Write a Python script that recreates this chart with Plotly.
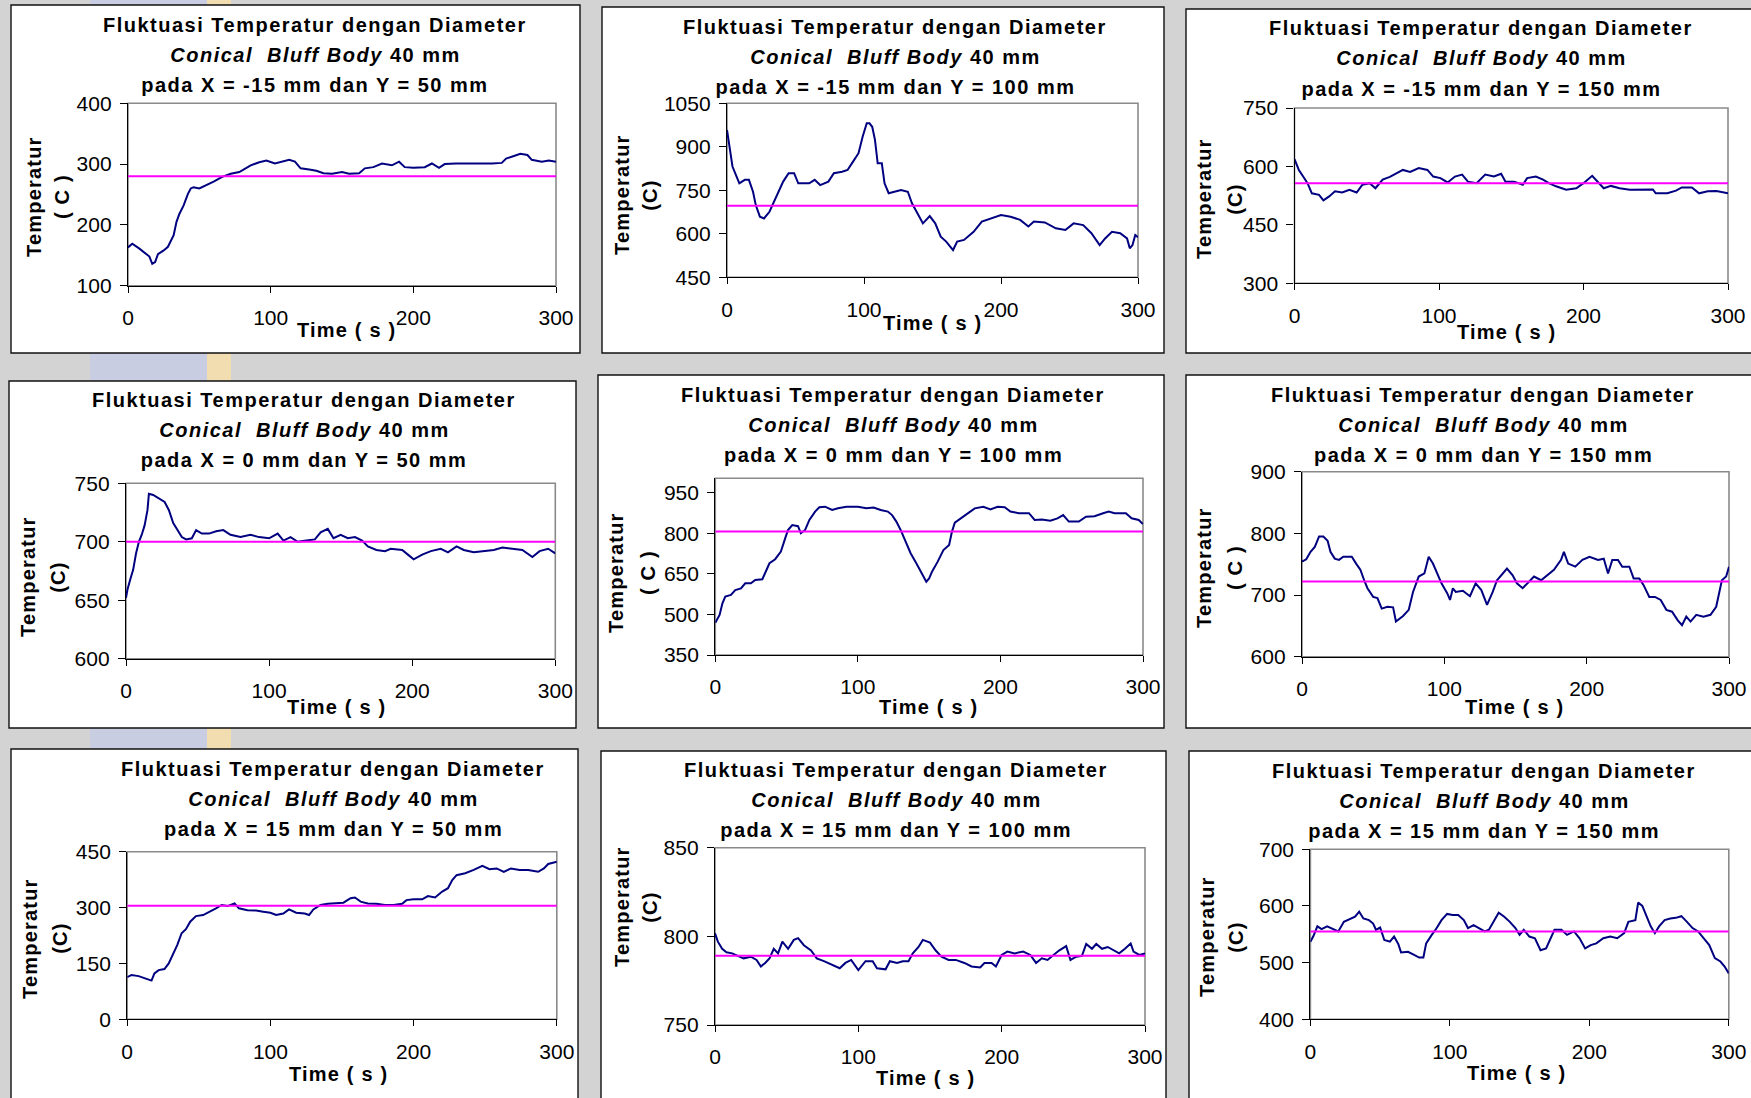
import plotly.graph_objects as go

# ---------------------------------------------------------------------------
# Temperature records, time in seconds and temperature in degrees C.
# One pair of arrays per probe position (X, Y in mm).
# ---------------------------------------------------------------------------
t_xm15_y50 = [0, 3, 8, 12, 15, 17, 19, 21, 25, 28, 32, 34, 36, 39, 42, 44, 46, 50, 55, 60,
              66, 72, 78, 82, 86, 92, 97, 103, 108, 113, 117, 121, 127, 132, 137, 143, 150, 155, 162, 166,
              172, 178, 185, 190, 194, 200, 208, 213, 218, 222, 230, 238, 245, 255, 262, 265, 270, 275, 280, 283,
              290, 295, 300]
temp_xm15_y50 = [163, 169, 161, 154, 148, 136, 139, 152, 158, 164, 183, 205, 218, 232, 251, 260, 262, 260, 265, 271,
                 279, 284, 287, 293, 298, 303, 306, 301, 304, 307, 304, 293, 291, 289, 285, 284, 287, 284, 285, 293,
                 295, 301, 298, 304, 295, 294, 295, 301, 294, 300, 301, 301, 300, 301, 302, 309, 313, 317, 315, 307,
                 304, 306, 304]

t_xm15_y100 = [0, 2, 4, 7, 9, 13, 16, 19, 21, 24, 27, 31, 35, 38, 41, 45, 49, 52, 60, 64,
               68, 74, 78, 84, 88, 92, 96, 99, 102, 104, 106, 108, 110, 113, 115, 118, 122, 127, 132, 135,
               139, 143, 148, 152, 156, 160, 165, 168, 173, 180, 186, 193, 200, 207, 214, 220, 224, 232, 240, 247,
               253, 260, 266, 272, 276, 281, 287, 292, 294, 296, 298, 300]
temp_xm15_y100 = [958, 901, 832, 797, 774, 786, 786, 745, 699, 659, 653, 676, 717, 745, 780, 809, 809, 774, 774, 786,
                  768, 780, 809, 814, 820, 849, 878, 935, 981, 981, 969, 924, 843, 843, 774, 740, 745, 751, 745, 705,
                  671, 636, 661, 636, 590, 573, 544, 573, 579, 607, 642, 653, 665, 659, 648, 625, 642, 639, 619, 613,
                  636, 630, 602, 561, 584, 607, 602, 584, 550, 561, 596, 588]

t_xm15_y150 = [0, 3, 6, 9, 12, 17, 20, 24, 28, 33, 38, 43, 47, 52, 56, 61, 66, 71, 75, 80,
               86, 92, 96, 101, 106, 111, 116, 120, 126, 132, 138, 143, 146, 152, 158, 161, 167, 172, 176, 181,
               188, 195, 200, 206, 210, 214, 219, 225, 232, 240, 248, 250, 258, 264, 268, 275, 280, 286, 292, 300]
temp_xm15_y150 = [619, 591, 574, 557, 531, 527, 513, 523, 536, 533, 540, 533, 553, 557, 544, 566, 573, 583, 591, 586,
                  596, 591, 574, 570, 559, 574, 579, 561, 557, 579, 574, 581, 561, 561, 553, 570, 574, 566, 557, 549,
                  540, 544, 557, 576, 561, 544, 550, 544, 540, 541, 541, 531, 531, 538, 546, 546, 531, 536, 537, 531]

t_x0_y50 = [0, 1, 3, 5, 7, 9, 11, 13, 15, 16, 19, 24, 27, 30, 33, 36, 39, 42, 46, 49,
            53, 58, 63, 68, 73, 80, 87, 93, 100, 106, 110, 115, 120, 126, 132, 136, 141, 145, 150, 155,
            160, 165, 169, 175, 181, 185, 193, 197, 201, 207, 213, 220, 225, 231, 236, 243, 250, 257, 263, 270,
            277, 284, 289, 295, 300]
temp_x0_y50 = [652, 659, 668, 676, 690, 700, 706, 714, 727, 741, 740, 736, 734, 727, 716, 710, 704, 702, 703, 710,
               707, 707, 709, 710, 706, 704, 706, 704, 703, 707, 701, 704, 700, 701, 702, 708, 711, 703, 706, 703,
               704, 701, 696, 693, 692, 694, 693, 689, 685, 689, 692, 694, 691, 696, 693, 691, 692, 693, 695, 694,
               693, 687, 692, 694, 690]

t_x0_y100 = [0, 3, 5, 7, 11, 14, 18, 21, 25, 28, 33, 36, 38, 42, 46, 49, 51, 54, 58, 60,
             63, 66, 70, 73, 77, 82, 86, 92, 100, 106, 111, 116, 121, 124, 127, 130, 133, 137, 141, 145,
             148, 150, 152, 156, 160, 164, 166, 168, 172, 177, 182, 188, 193, 198, 203, 207, 213, 220, 224, 229,
             235, 240, 244, 248, 255, 260, 266, 272, 276, 280, 288, 292, 297, 300]
temp_x0_y100 = [469, 498, 541, 566, 572, 590, 596, 615, 615, 627, 630, 664, 689, 704, 732, 781, 812, 830, 826, 800,
                812, 849, 880, 896, 898, 886, 892, 898, 898, 892, 895, 886, 880, 867, 843, 812, 775, 726, 689, 652,
                621, 633, 658, 695, 738, 757, 806, 839, 855, 874, 892, 898, 888, 898, 896, 880, 874, 874, 849, 851,
                846, 855, 867, 843, 843, 861, 863, 874, 880, 874, 874, 855, 849, 834]

t_x0_y150 = [0, 3, 6, 9, 12, 15, 18, 20, 23, 26, 29, 35, 38, 41, 44, 46, 50, 53, 56, 60,
             64, 66, 71, 75, 78, 82, 86, 89, 92, 95, 98, 102, 104, 106, 108, 113, 118, 122, 126, 130,
             134, 137, 141, 144, 148, 151, 155, 160, 163, 168, 172, 177, 182, 184, 187, 192, 197, 202, 208, 212,
             215, 218, 222, 225, 230, 233, 237, 240, 244, 248, 252, 256, 260, 264, 267, 270, 273, 277, 282, 287,
             291, 293, 295, 298, 300]
temp_x0_y150 = [754, 758, 770, 778, 795, 795, 788, 770, 759, 757, 762, 762, 751, 741, 722, 711, 697, 695, 678, 681,
                680, 657, 666, 676, 705, 730, 735, 762, 751, 735, 719, 703, 692, 711, 705, 707, 698, 719, 708, 684,
                705, 724, 735, 743, 732, 719, 711, 724, 730, 724, 732, 741, 757, 770, 751, 746, 757, 762, 757, 759,
                735, 757, 757, 746, 746, 727, 727, 716, 697, 697, 692, 676, 673, 659, 651, 665, 657, 668, 665, 668,
                681, 705, 724, 730, 746]

t_x15_y50 = [0, 3, 8, 11, 14, 17, 19, 22, 26, 29, 32, 35, 38, 41, 44, 48, 53, 57, 62, 66,
             70, 75, 78, 84, 90, 95, 100, 104, 109, 113, 118, 124, 127, 130, 135, 140, 146, 151, 156, 159,
             163, 168, 174, 180, 186, 192, 195, 200, 206, 210, 215, 220, 224, 227, 230, 236, 242, 248, 253, 258,
             263, 268, 274, 280, 287, 291, 294, 298, 300]
temp_x15_y50 = [113, 119, 116, 113, 108, 104, 123, 132, 135, 150, 173, 200, 231, 242, 262, 277, 280, 289, 298, 307,
                304, 311, 298, 293, 292, 289, 286, 280, 284, 295, 286, 284, 280, 295, 307, 310, 311, 313, 325, 327,
                316, 311, 310, 307, 307, 310, 320, 322, 322, 331, 327, 343, 352, 374, 387, 392, 401, 412, 403, 405,
                396, 405, 401, 401, 396, 405, 417, 420, 423]

t_x15_y100 = [0, 2, 5, 8, 12, 17, 20, 25, 29, 32, 35, 38, 41, 44, 47, 51, 55, 58, 62, 67,
              71, 76, 81, 87, 91, 95, 100, 105, 110, 113, 119, 122, 127, 131, 135, 138, 142, 145, 150, 154,
              158, 163, 168, 174, 179, 185, 188, 193, 196, 200, 204, 209, 215, 220, 224, 228, 232, 236, 240, 245,
              248, 252, 256, 259, 263, 266, 270, 274, 278, 282, 286, 290, 292, 296, 300]
temp_x15_y100 = [801.7, 797, 793, 791, 790.4, 788.5, 787.6, 788.5, 786.7, 783,
                 785, 787.6, 793, 790.4, 797, 793, 798, 799, 795, 792,
                 787.6, 786, 784, 782, 785, 786.7, 781, 786, 786, 782,
                 781.4, 786, 785, 786, 786, 790.4, 794, 798, 796.5, 792,
                 788.5, 786.7, 786.7, 785, 783, 782.5, 785, 785, 783, 789.5,
                 791.4, 790.4, 791.4, 789.5, 785, 787.6, 786.7, 789.5, 792, 794.5,
                 786.7, 788.5, 789, 795.7, 793, 795.7, 793, 794, 792, 790.4,
                 793, 796, 791.4, 789.5, 790.4]

t_x15_y150 = [0, 2, 5, 8, 12, 16, 20, 24, 28, 32, 35, 38, 42, 45, 47, 50, 53, 57, 60, 63,
              65, 70, 74, 78, 81, 83, 87, 90, 94, 98, 102, 106, 110, 113, 117, 121, 125, 128, 131, 135,
              139, 143, 147, 150, 153, 157, 161, 165, 169, 172, 175, 180, 184, 189, 193, 197, 201, 205, 210, 215,
              220, 225, 228, 233, 235, 238, 241, 244, 247, 250, 254, 258, 262, 266, 270, 274, 278, 282, 286, 290,
              294, 297, 300]
temp_x15_y150 = [537, 546, 564, 559, 564, 559, 555, 572, 576, 581, 590, 578, 575, 569, 558, 562, 540, 537, 546, 533,
                 518, 519, 514, 509, 509, 534, 549, 559, 575, 586, 584, 584, 575, 561, 566, 561, 555, 558, 572, 588,
                 581, 572, 561, 549, 558, 546, 543, 522, 525, 540, 558, 558, 549, 555, 543, 525, 531, 534, 543, 546,
                 543, 552, 572, 575, 606, 600, 581, 564, 552, 564, 575, 578, 579, 582, 572, 561, 555, 543, 531, 508,
                 502, 493, 481]

# average temperature of each record (horizontal reference line)
mean_temp = [280, 697, 557, 700, 806, 722, 305, 789, 555]

# probe coordinates used in the subtitles
probe_x = [-15, -15, -15, 0, 0, 0, 15, 15, 15]
probe_y = [50, 100, 150, 50, 100, 150, 50, 100, 150]

# axis scales
time_ticks = [0, 100, 200, 300]
y_ticks = [
    [100, 200, 300, 400],
    [450, 600, 750, 900, 1050],
    [300, 450, 600, 750],
    [600, 650, 700, 750],
    [350, 500, 650, 800, 950],
    [600, 700, 800, 900],
    [0, 150, 300, 450],
    [750, 800, 850],
    [400, 500, 600, 700],
]
y_ranges = [[100, 400], [450, 1050], [300, 750], [600, 750], [350, 1003],
            [600, 900], [0, 450], [750, 850], [400, 700]]
unit_labels = ["( C )", "(C)", "(C)", "(C)", "( C )", "( C )", "(C)", "(C)", "(C)"]

series_t = [t_xm15_y50, t_xm15_y100, t_xm15_y150, t_x0_y50, t_x0_y100, t_x0_y150,
            t_x15_y50, t_x15_y100, t_x15_y150]
series_temp = [temp_xm15_y50, temp_xm15_y100, temp_xm15_y150, temp_x0_y50, temp_x0_y100, temp_x0_y150,
               temp_x15_y50, temp_x15_y100, temp_x15_y150]

# ---------------------------------------------------------------------------
# Page geometry (pixels)
# ---------------------------------------------------------------------------
W, H = 1751, 1098

# plot areas: left, right, top, bottom
plot_px = [
    (128, 556, 103.3, 285.7), (727, 1138, 103.3, 277.3), (1294.5, 1728, 108, 283.3),
    (126, 555.3, 483.3, 658.7), (715.3, 1143, 478.3, 655), (1302, 1729, 471.7, 656.7),
    (127.2, 556.8, 851.7, 1019.3), (715, 1145, 847.7, 1025), (1310.4, 1728.8, 849.3, 1019.3),
]
# chart frames: left, right, top, bottom
frame_px = [
    (11, 580, 5, 353), (602, 1164, 7, 353), (1186, 1762, 9, 353),
    (9, 576, 381, 728), (598, 1164, 375, 728), (1186, 1762, 375, 728),
    (11, 578, 749, 1112), (601, 1166, 751, 1112), (1189, 1762, 751, 1112),
]
# title block: centre x, y of the three lines
title_px = [
    (315, (25, 55, 85)), (895, (27, 57, 87)), (1481, (28, 58, 89)),
    (304, (400, 430, 460)), (893, (395, 425, 455)), (1483, (395, 425, 455)),
    (333, (769, 799, 829)), (896, (770, 800, 830)), (1484, (771, 801, 831)),
]
# y title: x of first line, x of second line, centre y
ytitle_px = [
    (34, 62, 197), (622, 650, 195), (1204, 1235, 199),
    (28, 58, 577), (616, 648, 573), (1204, 1235, 568),
    (30, 60, 938), (622, 650, 907), (1207, 1236, 937),
]
# x title centre
xtitle_px = [
    (346, 330), (932, 323), (1506, 332),
    (336, 707), (928, 707), (1514, 707),
    (338, 1074), (925, 1078), (1516, 1073),
]
# tinted page strips behind the charts: left, right, colour
strip_px = [(90, 207, "#c9cde2"), (207, 231, "#f1ddb0")]

FONT = "Liberation Sans, Arial, sans-serif"
NAVY = "#000080"
MAGENTA = "#ff00ff"


def fx(px):
    return px / W


def fy(py):
    return 1 - py / H


fig = go.Figure()
shapes = []
annotations = []
layout_axes = {}

for sl, sr, col in strip_px:
    shapes.append(dict(type="rect", xref="paper", yref="paper", layer="below",
                       x0=fx(sl), x1=fx(sr), y0=0, y1=1, fillcolor=col, line=dict(width=0)))

for i in range(9):
    n = "" if i == 0 else str(i + 1)
    xa, ya = "x" + n, "y" + n
    x0, x1, y0, y1 = plot_px[i]

    fig.add_trace(go.Scatter(
        x=series_t[i], y=series_temp[i], mode="lines", xaxis=xa, yaxis=ya,
        line=dict(color=NAVY, width=2), showlegend=False, hoverinfo="skip"))
    fig.add_trace(go.Scatter(
        x=[time_ticks[0], time_ticks[-1]], y=[mean_temp[i], mean_temp[i]], mode="lines",
        xaxis=xa, yaxis=ya, line=dict(color=MAGENTA, width=2), showlegend=False, hoverinfo="skip"))

    common = dict(showgrid=False, zeroline=False, showline=True, linecolor="#000000", linewidth=1.3,
                  ticks="outside", tickcolor="#000000", tickwidth=1.3, automargin=False,
                  tickfont=dict(family=FONT, size=21, color="#000000"), fixedrange=True)
    layout_axes["xaxis" + n] = dict(
        common, domain=[fx(x0), fx(x1)], anchor=ya, range=[0, 300],
        tickvals=time_ticks, ticklen=6, ticklabelstandoff=7)
    layout_axes["yaxis" + n] = dict(
        common, domain=[fy(y1), fy(y0)], anchor=xa, range=y_ranges[i],
        tickvals=y_ticks[i], ticklen=7, ticklabelstandoff=4)

    # white chart frame
    fl, fr, ft, fb = frame_px[i]
    shapes.append(dict(type="rect", xref="paper", yref="paper", layer="below",
                       x0=fx(fl), x1=fx(fr), y0=fy(fb), y1=fy(ft),
                       fillcolor="#ffffff", line=dict(color="#111111", width=1.4)))
    # grey plot-area border
    shapes.append(dict(type="rect", xref="paper", yref="paper", layer="below",
                       x0=fx(x0), x1=fx(x1), y0=fy(y1), y1=fy(y0),
                       fillcolor="rgba(0,0,0,0)", line=dict(color="#8a8a8a", width=1.6)))

    # three-line title
    tx, (ly1, ly2, ly3) = title_px[i]
    lines = [
        "<b>Fluktuasi Temperatur dengan Diameter</b>",
        "<b><i>Conical\u00a0\u00a0Bluff Body</i> 40 mm</b>",
        "<b>pada X = %d mm dan Y = %d mm</b>" % (probe_x[i], probe_y[i]),
    ]
    for txt, ly in zip(lines, (ly1, ly2, ly3)):
        annotations.append(dict(text=txt, xref="paper", yref="paper", x=fx(tx), y=fy(ly),
                                xanchor="center", yanchor="middle", showarrow=False,
                                font=dict(family=FONT, size=20, color="#000000")))

    # axis titles
    ax1, ax2, ayc = ytitle_px[i]
    annotations.append(dict(text="<b>Temperatur</b>", xref="paper", yref="paper", x=fx(ax1), y=fy(ayc),
                            xanchor="center", yanchor="middle", textangle=-90, showarrow=False,
                            font=dict(family=FONT, size=20, color="#000000")))
    annotations.append(dict(text="<b>%s</b>" % unit_labels[i], xref="paper", yref="paper", x=fx(ax2),
                            y=fy(ayc), xanchor="center", yanchor="middle", textangle=-90, showarrow=False,
                            font=dict(family=FONT, size=20, color="#000000")))
    bx, by = xtitle_px[i]
    annotations.append(dict(text="<b>Time ( s )</b>", xref="paper", yref="paper", x=fx(bx), y=fy(by),
                            xanchor="center", yanchor="middle", showarrow=False,
                            font=dict(family=FONT, size=20, color="#000000")))

fig.update_layout(
    width=W, height=H, margin=dict(l=0, r=0, t=0, b=0, autoexpand=False),
    paper_bgcolor="#d3d3d3", plot_bgcolor="rgba(0,0,0,0)",
    shapes=shapes, annotations=annotations, showlegend=False,
    **layout_axes,
)

# wide Excel-style character spacing for the bold captions
PAGE_JS = """
var gd = document.getElementById('{plot_id}');
gd.querySelectorAll('.annotation-text').forEach(function (el) {
  var s = el.textContent;
  el.style.letterSpacing = /^(Fluktuasi|Conical|pada)/.test(s) ? '1.5px' : '1.2px';
});
"""

fig.write_html("out.html", config={"displayModeBar": False}, post_script=PAGE_JS)
